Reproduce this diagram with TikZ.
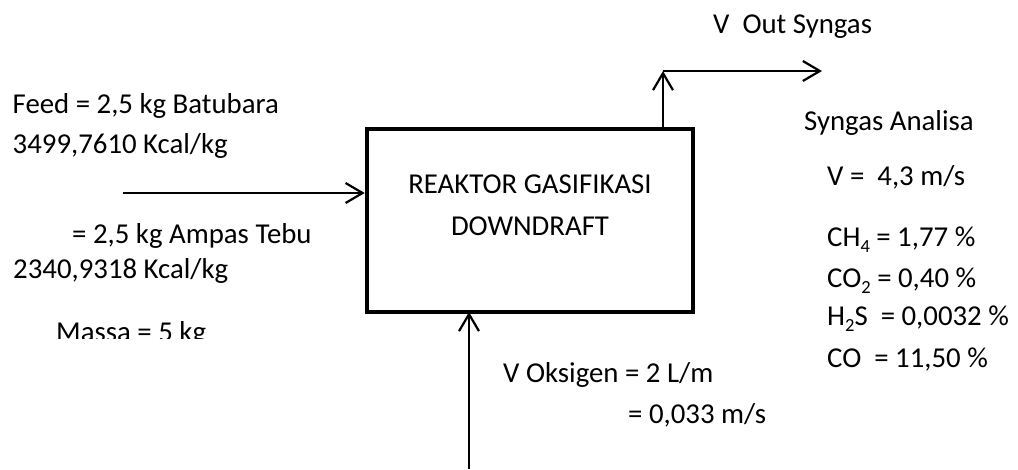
\documentclass[tikz,border=0pt]{standalone}
\usepackage{fontspec}
\setmainfont{Carlito}
\usetikzlibrary{arrows.meta}
\newcommand{\subtxt}[1]{\raisebox{-0.22em}{\fontsize{18.5}{18.5}\selectfont #1}}
\begin{document}
\begin{tikzpicture}[x=1pt,y=-1pt,
  lbl/.style={anchor=base west,inner sep=0pt,font=\fontsize{28.8}{34}\selectfont},
  ctr/.style={anchor=base,inner sep=0pt,font=\fontsize{28.8}{34}\selectfont},
  flow/.style={line width=2.2pt,-{Straight Barb[length=17pt,width=20pt,line width=2.2pt]}},
  reactorbox/.style={draw,line width=4.5pt,minimum width=326pt,minimum height=183pt,inner sep=0pt}]
\useasboundingbox (0,0) rectangle (1018,469);
% reactor box
\node[reactorbox] (reactor) at (530,220.5) {};
\node[ctr] (r1) at (530,193) {REAKTOR GASIFIKASI};
\node[ctr] (r2) at (530,235) {DOWNDRAFT};
% coordinates
\coordinate (feedstart) at (123,193);
\coordinate (oxstart) at (469,469);
\coordinate (oxend) at (469,312);
\coordinate (outbase) at (663,129);
\coordinate (outcorner) at (663,71);
\coordinate (outend) at (822,71);
% connectors
\draw[flow] (feedstart) -- (feedstart -| reactor.west);
\draw[flow] (oxstart) -- (oxend);
\draw[flow] (outbase) -- (outcorner);
\draw[flow] (outcorner) -- (outend);
% left texts
\node[lbl] (feed1) at (12.5,113) {Feed = 2,5 kg Batubara};
\node[lbl] (feed2) at (12.5,153) {3499,7610 Kcal/kg};
\node[lbl] (feed3) at (72,243) {= 2,5 kg Ampas Tebu};
\node[lbl] (feed4) at (13,278) {2340,9318 Kcal/kg};
\begin{scope}
\clip (0,300) rectangle (300,338);
\node[lbl] (massa) at (56,341) {Massa = 5 kg};
\end{scope}
% top texts
\node[lbl] (vout) at (713,33) {V~ Out Syngas};
\node[lbl] (analisa) at (804,130) {Syngas Analisa};
\node[lbl] (vsyn) at (827,185) {V =~ 4,3 m/s};
\node[lbl] (ch4) at (827,246) {CH\subtxt{4} = 1,77 \%};
\node[lbl] (co2) at (827,287) {CO\subtxt{2} = 0,40 \%};
\node[lbl] (h2s) at (827,325) {H\subtxt{2}S~ = 0,0032 \%};
\node[lbl] (co) at (827,367) {CO~ = 11,50 \%};
% oxygen texts
\node[lbl] (ox1) at (503,382) {V Oksigen = 2 L/m};
\node[lbl] (ox2) at (628,423) {= 0,033 m/s};
\end{tikzpicture}
\end{document}
